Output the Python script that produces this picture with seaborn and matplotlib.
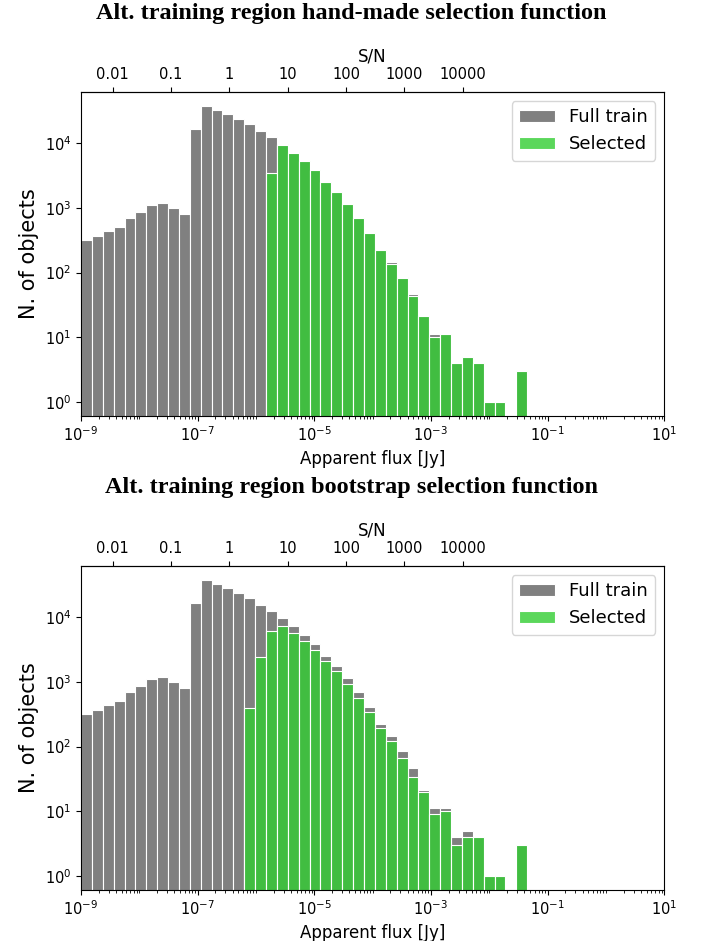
import numpy as np
import pandas as pd
import matplotlib
matplotlib.use("Agg")
import matplotlib.pyplot as plt
import matplotlib.ticker as mticker
import seaborn as sns

# ---- data ----
log_flux_min = -9.0
log_flux_max = -1.35
n_bins = 41
noise_jy = 3.5e-7

full_train = [319, 363, 444, 500, 690, 865, 1096, 1178, 1009, 795,
              16550, 37880, 33400, 28650, 23950, 20050, 15800, 12450, 9820, 7290,
              5390, 3880, 2530, 1740, 1148, 700, 403, 226, 143, 84,
              47, 21, 11, 11, 4, 5, 4, 1, 1, 0, 3]

selected_handmade = [0, 0, 0, 0, 0, 0, 0, 0, 0, 0,
                     0, 0, 0, 0, 0, 0, 0, 3515, 9310, 7000,
                     5300, 3820, 2530, 1740, 1148, 700, 403, 226, 137, 83,
                     44, 21, 10, 11, 4, 5, 4, 1, 1, 0, 3]

selected_bootstrap = [0, 0, 0, 0, 0, 0, 0, 0, 0, 0,
                      0, 0, 0, 0, 0, 393, 2427, 6140, 7250, 5785,
                      4350, 3116, 2080, 1455, 937, 568, 341, 192, 122, 67,
                      34, 20, 9, 10, 3, 4, 4, 1, 1, 0, 3]

sn_ticks = [0.01, 0.1, 1, 10, 100, 1000, 10000]
sn_labels = ["0.01", "0.1", "1", "10", "100", "1000", "10000"]
flux_ticks = [1e-9, 1e-7, 1e-5, 1e-3, 1e-1, 1e1]

titles = ["Alt. training region hand-made selection function",
          "Alt. training region bootstrap selection function"]
selections = [selected_handmade, selected_bootstrap]

# ---- derived bins ----
edges_log = np.linspace(log_flux_min, log_flux_max, n_bins + 1)
centers = 10 ** (0.5 * (edges_log[:-1] + edges_log[1:]))
bin_list = [float(e) for e in edges_log]

plt.rcParams["font.family"] = ["DejaVu Sans"]

W, H = 703, 941
fig = plt.figure(figsize=(W / 100, H / 100), dpi=100)

ax_left = 81 / W
ax_w = (664.3 - 81) / W
ax_h = 324 / H
bottoms_px = [416, 890]
title_y_px = [13, 487]

for k in range(2):
    ax = fig.add_axes([ax_left, 1 - bottoms_px[k] / H, ax_w, ax_h])
    df = pd.DataFrame({"flux": centers, "full": full_train, "sel": selections[k]})
    sns.histplot(data=df, x="flux", weights="full", bins=bin_list, log_scale=True,
                 color="grey", alpha=1.0, edgecolor="white", linewidth=0.8,
                 label="Full train", ax=ax)
    sns.histplot(data=df, x="flux", weights="sel", bins=bin_list, log_scale=True,
                 color="limegreen", alpha=0.8, edgecolor="white", linewidth=0.8,
                 label="Selected", ax=ax)
    ax.set_yscale("log")
    ax.set_xlim(1e-9, 1e1)
    ax.set_ylim(10 ** -0.222, 10 ** 4.795)
    ax.set_xticks(flux_ticks)
    ax.xaxis.set_minor_locator(mticker.LogLocator(base=10, subs=np.arange(1, 10), numticks=100))
    ax.xaxis.set_minor_formatter(mticker.NullFormatter())
    ax.yaxis.set_major_locator(mticker.LogLocator(base=10, numticks=10))
    ax.yaxis.set_minor_locator(mticker.NullLocator())
    ax.tick_params(axis="both", which="major", labelsize=10.5)
    ax.set_xlabel("Apparent flux [Jy]", fontsize=12)
    ax.set_ylabel("N. of objects", fontsize=15)

    sec = ax.secondary_xaxis("top", functions=(lambda f: f / noise_jy, lambda s: s * noise_jy))
    sec.set_xticks(sn_ticks)
    sec.set_xticklabels(sn_labels)
    sec.xaxis.set_minor_locator(mticker.NullLocator())
    sec.tick_params(axis="x", labelsize=10.5)
    sec.set_xlabel("S/N", fontsize=12)

    ax.legend(loc="upper right", fontsize=13, frameon=True)

    fig.text(0.5, 1 - title_y_px[k] / H, titles[k], ha="center", va="center",
             family=["Liberation Serif", "DejaVu Serif"], fontweight="bold", fontsize=17.5)

fig.savefig("out.png", dpi=100)
